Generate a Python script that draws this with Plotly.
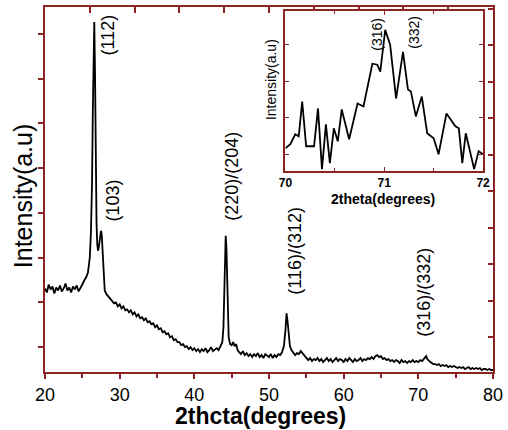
import plotly.graph_objects as go

# ---- main XRD pattern (2theta in degrees, intensity in arbitrary units) ----
two_theta = [
    20.0, 20.25, 20.5, 20.75, 21.0, 21.25, 21.5, 21.75, 22.0, 22.25, 22.5, 22.75,
    23.0, 23.25, 23.5, 23.75, 24.0, 24.25, 24.5, 24.75, 25.0, 25.25, 25.5, 25.75,
    26.0, 26.15, 26.3, 26.4, 26.5, 26.6, 26.7, 26.8, 26.9, 27.0, 27.1, 27.2, 27.3,
    27.4, 27.5, 27.6, 27.7, 27.8, 27.9, 28.0, 28.25, 28.5, 28.75, 29.0, 29.25,
    29.5, 29.75, 30.0, 30.25, 30.5, 30.75, 31.0, 31.25, 31.5, 31.75, 32.0, 32.25,
    32.5, 32.75, 33.0, 33.25, 33.5, 33.75, 34.0, 34.25, 34.5, 34.75, 35.0, 35.25,
    35.5, 35.75, 36.0, 36.25, 36.5, 36.75, 37.0, 37.25, 37.5, 37.75, 38.0, 38.25,
    38.5, 38.75, 39.0, 39.25, 39.5, 39.75, 40.0, 40.25, 40.5, 40.75, 41.0, 41.25,
    41.5, 41.75, 42.0, 42.25, 42.5, 42.75, 43.0, 43.25, 43.5, 43.75, 43.9, 44.0,
    44.1, 44.2, 44.3, 44.4, 44.5, 44.6, 44.8, 45.0, 45.2, 45.4, 45.6, 45.8, 46.0,
    46.25, 46.5, 46.75, 47.0, 47.25, 47.5, 47.75, 48.0, 48.25, 48.5, 48.75, 49.0,
    49.25, 49.5, 49.75, 50.0, 50.25, 50.5, 50.75, 51.0, 51.25, 51.5, 51.75, 52.0,
    52.2, 52.35, 52.5, 52.65, 52.8, 53.0, 53.25, 53.5, 53.75, 54.0, 54.25, 54.5,
    54.75, 55.0, 55.25, 55.5, 55.75, 56.0, 56.25, 56.5, 56.75, 57.0, 57.25, 57.5,
    57.75, 58.0, 58.25, 58.5, 58.75, 59.0, 59.25, 59.5, 59.75, 60.0, 60.25, 60.5,
    60.75, 61.0, 61.25, 61.5, 61.75, 62.0, 62.25, 62.5, 62.75, 63.0, 63.25, 63.5,
    63.75, 64.0, 64.25, 64.5, 64.75, 65.0, 65.25, 65.5, 65.75, 66.0, 66.25, 66.5,
    66.75, 67.0, 67.25, 67.5, 67.75, 68.0, 68.25, 68.5, 68.75, 69.0, 69.25, 69.5,
    69.75, 70.0, 70.25, 70.5, 70.75, 70.9, 71.05, 71.2, 71.4, 71.6, 71.8, 72.0,
    72.25, 72.5, 72.75, 73.0, 73.25, 73.5, 73.75, 74.0, 74.25, 74.5, 74.75, 75.0,
    75.25, 75.5, 75.75, 76.0, 76.25, 76.5, 76.75, 77.0, 77.25, 77.5, 77.75, 78.0,
    78.25, 78.5, 78.75, 79.0, 79.25, 79.5, 79.75, 80.0,
]
intensity = [
    84, 80, 88, 83, 86, 79, 85, 82, 87, 81, 84, 89,
    82, 85, 80, 86, 83, 87, 81, 84, 88, 92, 95, 100,
    115, 140, 190, 260, 330, 352, 300, 210, 150, 128, 122, 125, 132,
    140, 142, 138, 120, 100, 88, 82, 78, 76, 74, 72, 69,
    70, 66, 68, 64, 66, 62, 63, 60, 62, 58, 60, 56,
    58, 54, 55, 52, 54, 50, 51, 48, 49, 45, 47, 43,
    44, 40, 41, 38, 39, 35, 36, 32, 33, 30, 30, 27,
    28, 25, 26, 23, 25, 22, 24, 21, 23, 20, 23, 21,
    24, 20, 22, 25, 21, 23, 24, 22, 26, 30, 45, 75,
    115, 137, 125, 85, 50, 35, 28, 27, 30, 26, 28, 22, 20,
    18, 21, 17, 19, 16, 18, 15, 18, 16, 19, 15, 17,
    14, 18, 16, 15, 18, 14, 17, 15, 18, 17, 20, 26,
    42, 59, 50, 35, 26, 22, 19, 17, 19, 18, 21, 19,
    16, 14, 12, 14, 11, 13, 12, 14, 11, 13, 10, 12,
    14, 11, 13, 10, 12, 14, 11, 13, 12, 10, 13, 11,
    14, 12, 10, 13, 11, 12, 14, 11, 13, 12, 14, 13,
    15, 13, 16, 17, 15, 16, 13, 14, 12, 13, 11, 12,
    10, 12, 11, 9, 12, 10, 11, 9, 11, 10, 12, 10,
    11, 10, 12, 11, 13, 14, 16, 13, 11, 10, 9, 8,
    8, 7, 8, 6, 7, 6, 7, 5, 6, 5, 6, 5,
    4, 5, 4, 5, 3, 4, 5, 3, 4, 3, 4, 3,
    4, 2, 3, 3, 2, 3, 2, 2,
]

# ---- inset: 70-72 degree region ----
inset_theta = [
    70.00, 70.05, 70.10, 70.135, 70.17, 70.21, 70.29, 70.33, 70.37, 70.41, 70.45,
    70.49, 70.53, 70.57, 70.645, 70.73, 70.79, 70.88, 70.93, 70.96, 71.01, 71.06,
    71.12, 71.19, 71.24, 71.27, 71.32, 71.38, 71.435, 71.50, 71.55, 71.63, 71.72,
    71.755, 71.79, 71.825, 71.91, 71.955, 72.00,
]
inset_intensity = [
    23, 27, 37, 35, 70, 25, 25, 63, 2, 47, 8,
    43, 30, 62, 32, 68, 65, 108, 107, 100, 142, 127,
    73, 120, 82, 80, 55, 75, 38, 33, 17, 58, 45,
    43, 8, 38, 2, 20, 17,
]

main_x_ticks = [20, 30, 40, 50, 60, 70, 80]
inset_x_ticks = [70, 71, 72]

main_peaks = ["(112)", "(103)", "(220)/(204)", "(116)/(312)", "(316)/(332)"]
main_peak_x = [28.38, 29.04, 45.0, 53.5, 70.8]
main_peak_y = [339, 172, 197, 122, 80]

inset_peaks = ["(316)", "(332)"]
inset_peak_x = [70.925, 71.30]
inset_peak_y = [138, 140]

FRAME = "#8B2323"
FONT = "Liberation Sans, Arial, sans-serif"

fig = go.Figure()
fig.add_trace(go.Scatter(x=two_theta, y=intensity, mode="lines",
                         line=dict(color="black", width=1.8),
                         xaxis="x", yaxis="y", showlegend=False, hoverinfo="skip"))
fig.add_trace(go.Scatter(x=inset_theta, y=inset_intensity, mode="lines",
                         line=dict(color="black", width=1.8),
                         xaxis="x2", yaxis="y2", showlegend=False, hoverinfo="skip"))
# invisible helpers so the top/right tick axes are drawn
fig.add_trace(go.Scatter(x=[20], y=[0], mode="markers", marker=dict(opacity=0),
                         xaxis="x3", yaxis="y", showlegend=False, hoverinfo="skip"))
fig.add_trace(go.Scatter(x=[20], y=[0], mode="markers", marker=dict(opacity=0),
                         xaxis="x", yaxis="y3", showlegend=False, hoverinfo="skip"))

annotations = []
for t, x, y in zip(main_peaks, main_peak_x, main_peak_y):
    annotations.append(dict(text=t, x=x, y=y, xref="x", yref="y", showarrow=False,
                            textangle=-90, font=dict(size=18, color="black", family=FONT),
                            xanchor="center", yanchor="middle"))
for t, x, y in zip(inset_peaks, inset_peak_x, inset_peak_y):
    annotations.append(dict(text=t, x=x, y=y, xref="x2", yref="y2", showarrow=False,
                            textangle=-90, font=dict(size=14, color="black", family=FONT),
                            xanchor="center", yanchor="middle"))

annotations += [
    dict(text="<b>2thcta(degrees)</b>", x=0.481, y=-0.121, xref="paper", yref="paper",
         showarrow=False, font=dict(size=23, color="black", family=FONT),
         xanchor="center", yanchor="middle"),
    dict(text="Intensity(a.u)", x=-0.0488, y=0.482, xref="paper", yref="paper",
         showarrow=False, textangle=-90, font=dict(size=25, color="black", family=FONT),
         xanchor="center", yanchor="middle"),
    dict(text="<b>2theta(degrees)</b>", x=0.754, y=0.473, xref="paper", yref="paper",
         showarrow=False, font=dict(size=14, color="black", family=FONT),
         xanchor="center", yanchor="middle"),
    dict(text="Intensity(a.u)", x=0.5033, y=0.801, xref="paper", yref="paper",
         showarrow=False, textangle=-90, font=dict(size=14, color="black", family=FONT),
         xanchor="center", yanchor="middle"),
]

fig.update_layout(
    width=508, height=430,
    margin=dict(l=45, r=12, t=5, b=58),
    paper_bgcolor="white", plot_bgcolor="white",
    font=dict(family=FONT, color="black"),
    showlegend=False,
    annotations=annotations,
    xaxis=dict(domain=[0, 1], range=[20, 80], anchor="y",
               tickvals=main_x_ticks, ticks="outside", ticklen=5, tickwidth=1.5,
               tickcolor=FRAME, showline=True, linecolor=FRAME, linewidth=2,
               mirror=True, showgrid=False, zeroline=False,
               tickfont=dict(size=18, color="black"),
               minor=dict(dtick=5, tick0=25, ticks="outside", ticklen=4,
                          tickcolor=FRAME, tickwidth=1.5)),
    yaxis=dict(domain=[0, 1], range=[0, 367], anchor="x",
               tickmode="linear", tick0=25, dtick=45, ticks="outside", ticklen=5,
               tickwidth=1.5, tickcolor=FRAME, showticklabels=False,
               showline=True, linecolor=FRAME, linewidth=2, mirror=True,
               showgrid=False, zeroline=False),
    xaxis3=dict(overlaying="x", side="top", anchor="y", range=[20, 80],
                tickmode="linear", tick0=26, dtick=6, ticks="inside", ticklen=6,
                tickwidth=1.5, tickcolor=FRAME, showticklabels=False,
                showline=False, showgrid=False, zeroline=False),
    yaxis3=dict(overlaying="y", side="right", anchor="x", range=[0, 367],
                tickmode="linear", tick0=35, dtick=36.7, ticks="inside", ticklen=5,
                tickwidth=1.5, tickcolor=FRAME, showticklabels=False,
                showline=False, showgrid=False, zeroline=False),
    xaxis2=dict(domain=[0.5366, 0.9778], range=[70, 72], anchor="y2",
                tickvals=inset_x_ticks, ticktext=["<b>%d</b>" % v for v in inset_x_ticks],
                ticks="inside", ticklen=4, tickwidth=1.2, tickcolor=FRAME,
                showline=True, linecolor=FRAME, linewidth=1.5, mirror="ticks",
                showgrid=False, zeroline=False,
                tickfont=dict(size=12, color="black"),
                minor=dict(dtick=0.5, tick0=70.5, ticks="inside", ticklen=3,
                           tickcolor=FRAME)),
    yaxis2=dict(domain=[0.5504, 0.989], range=[0, 161], anchor="x2",
                tickmode="linear", tick0=17, dtick=36.7, ticks="inside", ticklen=4,
                tickwidth=1.2, tickcolor=FRAME, showticklabels=False,
                showline=True, linecolor=FRAME, linewidth=1.5, mirror="ticks",
                showgrid=False, zeroline=False),
)

fig.write_html("out.html")
